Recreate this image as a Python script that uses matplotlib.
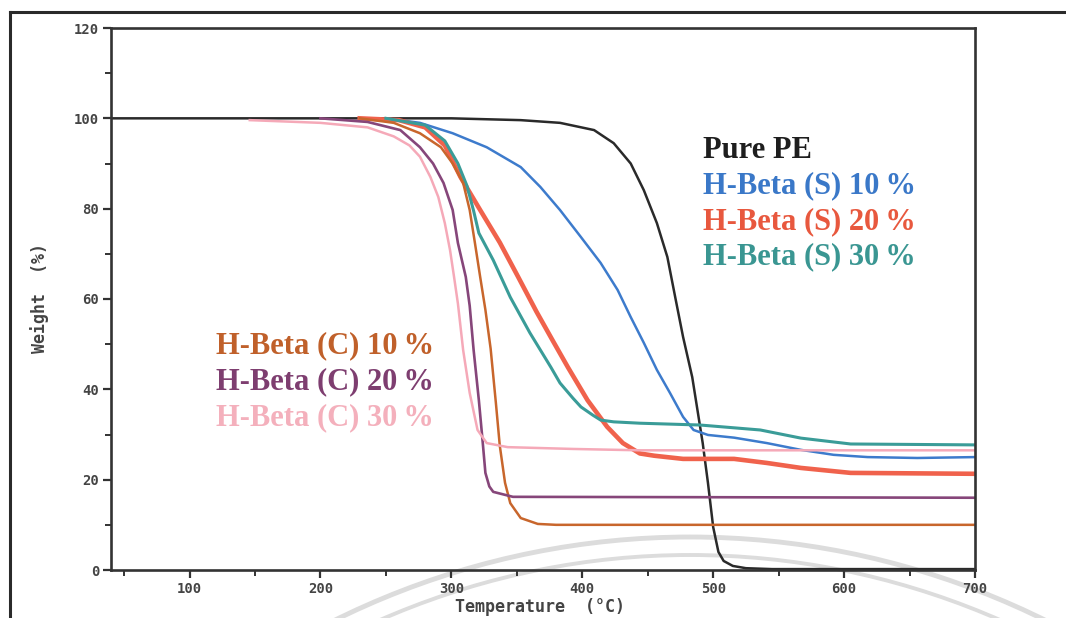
#!/usr/bin/env python3
"""TGA curves of PE with H-Beta catalysts (S and C), weight vs temperature."""

import matplotlib

matplotlib.use("Agg")
import matplotlib.pyplot as plt
from matplotlib.lines import Line2D
from matplotlib.patches import Arc
from matplotlib.ticker import MultipleLocator

# temperature (degC) / weight (%)
pe_t = [40, 300, 353, 383, 409, 424, 437, 447, 457, 465, 471, 477, 484, 488,
        492, 496, 500, 504, 508, 515, 525, 545, 700]
pe_w = [100, 100, 99.6, 99, 97.4, 94.5, 90, 84.1, 76.8, 69.3, 60.4, 51.6,
        42.7, 35.4, 28.1, 19.3, 9.5, 4, 2, 0.9, 0.4, 0.2, 0.2]

s10_t = [250, 276, 301, 327, 353, 368, 383, 399, 414, 427, 437, 447, 457,
         467, 477, 485, 496, 516, 541, 567, 592, 618, 656, 700]
s10_w = [100, 99, 96.7, 93.6, 89.2, 84.8, 79.7, 73.7, 68, 62, 56, 50.3,
         44.3, 39.2, 33.9, 31, 29.9, 29.3, 28.1, 26.6, 25.5, 25, 24.8, 25]

s20_t = [230, 260, 280, 295, 307, 322, 337, 351, 365, 378, 389, 404, 419,
         431, 444, 455, 477, 516, 541, 567, 605, 700]
s20_w = [100, 99.6, 98, 94, 87, 79.7, 72.5, 64.9, 57.2, 50.5, 44.9, 37.6,
         31.7, 28.1, 25.8, 25.3, 24.6, 24.6, 23.7, 22.6, 21.5, 21.3]

s30_t = [250, 280, 295, 305, 312, 317, 321, 332, 345, 360, 376, 383, 393,
         399, 408, 414, 424, 444, 490, 536, 567, 605, 700]
s30_w = [100, 98.5, 95, 90, 85, 79.5, 74.6, 68.6, 60.4, 52.5, 44.9, 41.4,
         38, 36.1, 34.3, 33.2, 32.8, 32.5, 32.1, 31, 29.2, 27.9, 27.7]

c10_t = [230, 256, 276, 292, 301, 309, 314, 318, 322, 326, 330, 334, 337,
         341, 345, 353, 366, 380, 700]
c10_w = [100, 99, 96.7, 93.6, 90, 85.7, 79.7, 72.4, 64.9, 57.6, 49, 37,
         27.5, 19.3, 14.8, 11.5, 10.2, 10, 10]

c20_t = [200, 236, 261, 276, 286, 294, 301, 305, 311, 314, 317, 321, 324,
         326, 329, 332, 347, 700]
c20_w = [100, 99.2, 97.4, 93.6, 90, 85.7, 79.7, 72.4, 64.9, 58.5, 48.7,
         37.6, 28.1, 21.5, 18.5, 17.3, 16.2, 16]

c30_t = [146, 200, 236, 256, 268, 276, 284, 290, 295, 299, 302, 305, 309,
         314, 320, 327, 343, 393, 444, 700]
c30_w = [99.6, 99, 98, 96, 94, 91.5, 87, 82.6, 76.8, 70.8, 65, 59, 48.7,
         39.2, 31, 28.1, 27.2, 26.8, 26.5, 26.5]

series = [
    ("Pure PE", pe_t, pe_w, "#2a2a2a", 1.8),
    ("H-Beta (S) 10%", s10_t, s10_w, "#3d7bcc", 1.8),
    ("H-Beta (S) 20%", s20_t, s20_w, "#f0624c", 3.3),
    ("H-Beta (S) 30%", s30_t, s30_w, "#3a9c98", 2.2),
    ("H-Beta (C) 10%", c10_t, c10_w, "#c8662c", 1.8),
    ("H-Beta (C) 20%", c20_t, c20_w, "#86467a", 1.9),
    ("H-Beta (C) 30%", c30_t, c30_w, "#f5a9b8", 1.8),
]

right_labels = ["Pure PE", "H-Beta (S) 10\u2009%", "H-Beta (S) 20\u2009%",
                "H-Beta (S) 30\u2009%"]
right_colours = ["#1e1e1e", "#3a78c8", "#e8583e", "#3a9692"]
left_labels = ["H-Beta (C) 10\u2009%", "H-Beta (C) 20\u2009%",
               "H-Beta (C) 30\u2009%"]
left_colours = ["#c0602a", "#7e3e70", "#f4b0bc"]

W, H = 1066, 618
fig = plt.figure(figsize=(W / 100, H / 100), dpi=100, facecolor="white")

# scanner watermark arcs, behind the plot
bg = fig.add_axes([0, 0, 1, 1], zorder=0)
bg.set_xlim(0, W)
bg.set_ylim(H, 0)
bg.axis("off")
for r, top, lw in [(800, 537, 3.5), (772, 555, 2.8)]:
    bg.add_patch(Arc((690, top + r), 2 * r, 2 * r, theta1=180, theta2=360,
                     color="#dcdcdc", lw=lw))

ax = fig.add_axes([111 / W, 1 - 570 / H, (975 - 111) / W, (570 - 28) / H],
                  zorder=1)
ax.set_facecolor("none")

for name, t, w, colour, lw in series:
    ax.plot(t, w, color=colour, lw=lw, solid_joinstyle="round")

ax.set_xlim(40, 700)
ax.set_ylim(0, 120)
ax.xaxis.set_major_locator(MultipleLocator(100))
ax.xaxis.set_minor_locator(MultipleLocator(50))
ax.yaxis.set_major_locator(MultipleLocator(20))
ax.yaxis.set_minor_locator(MultipleLocator(10))
ax.set_xticks([100, 200, 300, 400, 500, 600, 700])
ax.tick_params(which="major", direction="out", length=6, width=1.6,
               colors="#333333", labelsize=10, pad=2.5)
ax.tick_params(which="minor", direction="out", length=4, width=1.4,
               colors="#333333")
for lab in ax.get_xticklabels() + ax.get_yticklabels():
    lab.set_fontfamily("DejaVu Sans Mono")
    lab.set_fontweight("bold")
    lab.set_color("#444444")
for side in ["left", "bottom", "top", "right"]:
    ax.spines[side].set_linewidth(1.9)
    ax.spines[side].set_color("#333333")

fig.text(540 / W, 1 - 607 / H, "Temperature  (°C)", ha="center", va="center",
         fontfamily="DejaVu Sans Mono", fontweight="bold", fontsize=12,
         color="#444444")
fig.text(40 / W, 1 - 298 / H, "Weight  (%)", ha="center", va="center",
         rotation=90, fontfamily="DejaVu Sans Mono", fontweight="bold",
         fontsize=12, color="#444444")

serif = ["Liberation Serif", "DejaVu Serif"]
for i, (name, colour) in enumerate(zip(right_labels, right_colours)):
    fig.text(703 / W, 1 - (150 + i * 35.7) / H, name, ha="left", va="center",
             fontfamily=serif, fontweight="bold", fontsize=22, color=colour)
for i, (name, colour) in enumerate(zip(left_labels, left_colours)):
    fig.text(216 / W, 1 - (346 + i * 36) / H, name, ha="left", va="center",
             fontfamily=serif, fontweight="bold", fontsize=22, color=colour)

# outer frame of the scanned page
fig.add_artist(Line2D([10 / W, 1.0], [1 - 12 / H] * 2, color="#2a2a2a",
                      lw=2.2, transform=fig.transFigure))
fig.add_artist(Line2D([10 / W] * 2, [0.0, 1 - 12 / H], color="#2a2a2a",
                      lw=2.2, transform=fig.transFigure))

fig.savefig("out.png", dpi=100)
